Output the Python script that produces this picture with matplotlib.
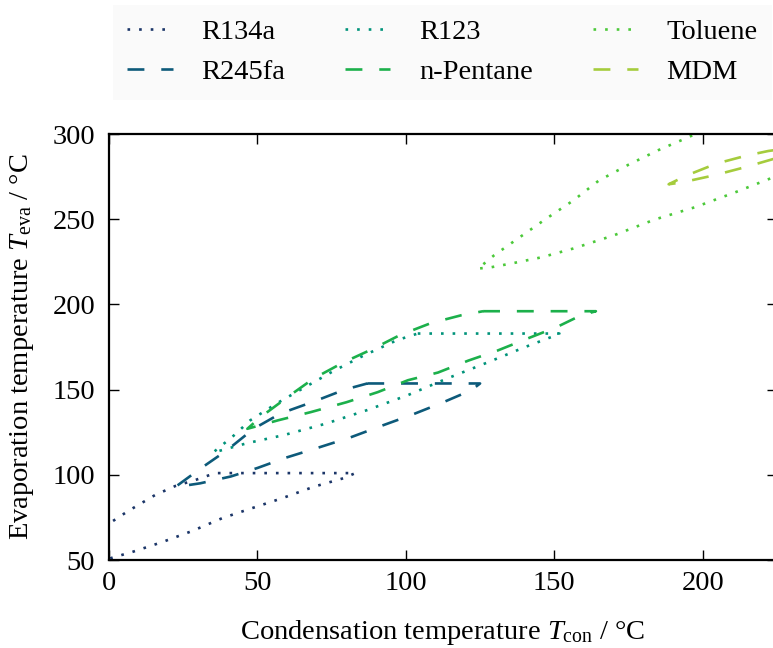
import matplotlib
matplotlib.use('Agg')
import matplotlib.pyplot as plt

plt.rcParams['font.family'] = ['Liberation Serif', 'DejaVu Serif']
plt.rcParams['mathtext.fontset'] = 'custom'
plt.rcParams['mathtext.rm'] = 'Liberation Serif'
plt.rcParams['mathtext.it'] = 'Liberation Serif:italic'

# operating envelopes, T_con (x) vs T_eva (y), traced as one path per fluid
r134a_x = [-2, 0.3, 6.4, 15.5, 22.3, 29, 35.8, 83, 79, 69, 58.4, 48.3, 38.2, 28, 17.9, 7.8, 1, -2]
r134a_y = [69.5, 71.7, 78.7, 88.1, 93.4, 96.9, 101, 101, 98, 93, 86.3, 80.5, 74.6, 67, 60.5, 54.7, 51.3, 49.6]

r245fa_x = [87, 125, 122, 111.8, 101.7, 92.2, 81.4, 70.6, 59.5, 50, 41, 30.7, 22.3,
            30.7, 39.8, 48.7, 57.8, 69, 79.4, 87]
r245fa_y = [153.6, 153.6, 149.6, 142, 135, 129, 122, 116, 110, 104, 99, 95, 92.8,
            103.5, 114.5, 127, 136, 143, 150, 153.6]

r123_x = [104, 151.7, 150.7, 139.9, 127.6, 114, 100.6, 87, 73, 58.9, 46.6, 35,
          42, 47.6, 56.6, 65.6, 75.7, 85.8, 97, 104]
r123_y = [182.9, 182.9, 182, 174.8, 166, 156.6, 146.7, 138, 130, 123.3, 118.6, 113,
          123, 132, 142, 151, 161, 170, 179, 182.9]

pentane_x = [126, 164, 159, 150.7, 141, 131, 121, 110.8, 100.7, 90.5, 80, 68, 57, 46.6,
             51, 61, 69, 79, 89, 98, 108.4, 118.6, 126]
pentane_y = [196, 196, 193.6, 186.6, 180, 173, 167, 160, 155.5, 148.5, 142.6, 136.8, 132, 127,
             133.8, 146.7, 156.6, 166, 174, 182, 189, 193.6, 196]

toluene_x = [200, 195, 185, 175, 165, 156.4, 147, 138, 129.7, 124.3,
             128.7, 135.5, 145.6, 156.4, 170, 183.8, 197.3, 210.8, 221, 228]
toluene_y = [302, 298, 290.5, 282, 272.7, 261, 250, 239, 228.8, 221,
             221.8, 224, 227.6, 232.8, 240.5, 249.8, 257, 265.7, 272.7, 277.5]

mdm_x = [228, 222, 214.9, 204.7, 194.6, 188.5, 193, 203.7, 214, 224.3, 228]
mdm_y = [291.5, 290, 287.4, 282.7, 275.7, 270.5, 271.6, 275.7, 280.4, 285.6, 287.5]

names = ['R134a', 'R245fa', 'R123', 'n-Pentane', 'Toluene', 'MDM']
xs = [r134a_x, r245fa_x, r123_x, pentane_x, toluene_x, mdm_x]
ys = [r134a_y, r245fa_y, r123_y, pentane_y, toluene_y, mdm_y]
colors = ['#1b3568', '#0d5a7a', '#00937a', '#1cb04b', '#4cc93a', '#a5cc3d']
dotted = (0, (1, 3.4))
dashed = (0, (6.4, 6.4))
styles = [dotted, dashed, dotted, dashed, dotted, dashed]

fs = 20.5

fig = plt.figure(figsize=(7.73, 6.48), dpi=100)
ax = fig.add_axes([109 / 773, 88 / 648, 668 / 773, 426 / 648])

for x, y, n, c, s in zip(xs, ys, names, colors, styles):
    ax.plot(x, y, color=c, linestyle=s, linewidth=1.9, label=n)

ax.set_xlim(0, 225)
ax.set_ylim(50, 300)
ax.set_xticks([0, 50, 100, 150, 200])
ax.set_yticks([50, 100, 150, 200, 250, 300])
ax.tick_params(direction='in', length=7, width=1, labelsize=fs, top=True, right=True)
ax.tick_params(axis='x', pad=8)
ax.tick_params(axis='y', pad=10)
for sp in ax.spines.values():
    sp.set_linewidth(1.6)

ax.set_xlabel(r'Condensation temperature $T_\mathrm{con}$ / °C', fontsize=fs, labelpad=16)
ax.set_ylabel(r'Evaporation temperature $T_\mathrm{eva}$ / °C', fontsize=fs, labelpad=12)

leg = fig.legend(loc='upper left', bbox_to_anchor=(113 / 773, 1 - 5 / 648), ncol=3,
                 fontsize=fs, handlelength=1.6, handletextpad=1.0, columnspacing=2.1,
                 labelspacing=0.5, borderpad=0.5, borderaxespad=0,
                 fancybox=False, framealpha=1)
leg.get_frame().set_facecolor('#fafafa')
leg.get_frame().set_edgecolor('none')

fig.savefig('out.png', dpi=100)
